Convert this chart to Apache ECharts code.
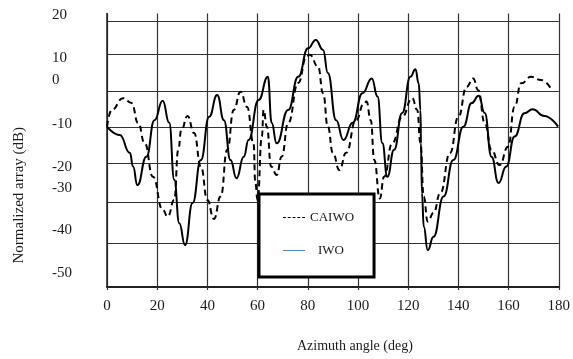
<!DOCTYPE html>
<html>
<head>
<meta charset="utf-8">
<script src="https://cdn.jsdelivr.net/npm/echarts@6/dist/echarts.min.js"></script>
<style>html,body{margin:0;padding:0;background:#fff}#c{width:573px;height:359px}</style>
</head>
<body>
<div id="c"></div>
<script>
// ---- data ----
const seriesNames = ['CAIWO', 'IWO'];
const xTickLabels = ['0','20','40','60','80','100','120','140','160','180'];
const yTickLabels = ['20','10','0','-10','-20','-30','-40','-50'];

const iwoAngle = [0,5.1,9.1,10.4,12.1,15.7,18.9,22.2,24.8,26.8,28.8,31.1,34.1,37.4,40.7,43.9,46.6,49.2,51.6,54.5,56.4,60.4,64.1,65.6,67.6,72.2,76.2,80.1,83.2,86.1,88.0,91.3,94.2,97.9,101.8,105.5,107.8,109.7,111.7,114.4,117.6,120.9,122.9,124.2,124.9,125.1,125.5,126.2,127.8,130.1,134.1,138.0,142.0,145.3,148.1,150.5,153.2,156.0,159.1,162.4,166.3,169.6,174.2,179.7];
const iwoDb    = [-7.8,-10.0,-14.7,-18.3,-23.2,-15.7,-6.1,-1.0,-6.8,-21.8,-33.2,-39.0,-27.9,-16.6,-5.2,0.5,-6.1,-16.6,-21.4,-15.7,-11.3,-0.8,5.3,-6.8,-12.2,-3.4,5.3,12.8,15.0,12.4,6.3,-6.1,-11.3,-6.8,1.0,4.9,0.1,-12.1,-21.0,-13.9,-4.2,5.3,7.3,3.6,-3.4,-12.2,-25.3,-34.1,-40.3,-36.8,-26.2,-16.6,-7.8,-1.6,0.3,-4.2,-15.7,-22.6,-18.3,-10.4,-4.3,-3.2,-5.0,-7.8];

const caiwoAngle = [0,1.9,6.4,9.8,12.4,15.0,18.3,22.2,24.2,26.8,28.4,29.6,32.1,34.7,37.4,40.0,42.6,45.3,47.9,50.5,53.2,55.8,58.4,59.1,60.0,61.7,62.4,63.7,65.4,67.6,69.6,72.2,76.2,79.5,80.8,84.1,86.1,88.0,90.0,92.6,95.3,99.2,102.5,103.4,105.1,106.5,108.7,110.4,113.7,117.6,121.6,123.6,124.9,126.2,127.8,130.1,132.8,136.7,140.0,143.3,145.9,147.9,150.5,153.2,156.4,159.8,162.4,165.0,169.0,172.9,176.8];
const caiwoDb    = [-7.8,-3.4,-0.3,-1.6,-6.8,-12.1,-21.0,-29.7,-31.5,-27.1,-13.9,-8.7,-5.0,-9.5,-18.3,-27.1,-32.1,-26.2,-13.9,-3.4,1.4,-2.6,-12.1,-22.6,-27.1,-10.4,-3.4,-7.8,-18.3,-20.5,-15.7,-6.8,3.7,10.6,11.1,8.0,1.0,-7.8,-14.7,-19.2,-14.7,-6.1,-1.6,-1.2,-6.1,-16.6,-26.7,-21.0,-12.1,-5.2,-0.3,-3.4,-12.1,-26.2,-32.8,-30.5,-25.3,-14.7,-5.2,2.7,4.9,1.8,-6.8,-13.9,-17.9,-13.1,-2.6,3.6,5.3,4.5,2.3];

// ---- layout (where the scanned figure put its y labels / grid rules) ----
const yLabelAt = [21.6, 10.3, 4.5, -7.1, -18.4, -24.0, -35.0, -46.3];
const yRuleAt  = [20, 11.3, 1.6, -7.9, -17.4, -27.6, -38.4];

const pairs = (xs, ys) => xs.map((x, i) => [x, ys[i]]);
const font = 'Liberation Serif, Times New Roman, serif';
const ink = '#1a1a1a';
const dashIcon = 'path://M0,0h3v1h-3z M5,0h3v1h-3z M10,0h3v1h-3z M15,0h3v1h-3z M20,0h3v1h-3z';
const solidIcon = 'path://M0,0h23v1h-23z';

const chart = echarts.init(document.getElementById('c'), null, {renderer: 'canvas'});
chart.setOption({
  animation: false,
  backgroundColor: '#fff',
  grid: {left: 107, right: 10, top: 13.4, bottom: 72},
  xAxis: {
    type: 'value', min: 0, max: 180, interval: 20,
    axisLine: {show: true, onZero: false, lineStyle: {color: '#222', width: 2}},
    axisTick: {show: true, length: 3, lineStyle: {color: '#333', width: 1.2}},
    axisLabel: {color: ink, fontFamily: font, fontSize: 15, margin: 12,
      formatter: (v) => xTickLabels[Math.round(v / 20)]},
    splitLine: {show: true, lineStyle: {color: '#333', width: 1.2}},
    name: 'Azimuth angle (deg)', nameLocation: 'middle', nameGap: 52,
    nameTextStyle: {color: ink, fontFamily: font, fontSize: 14, padding: [0, 0, 0, 44]}
  },
  yAxis: {
    type: 'value', min: -50, max: 22,
    axisLine: {show: true, onZero: false, lineStyle: {color: '#222', width: 1.5}},
    axisTick: {show: false, customValues: yRuleAt},
    axisLabel: {color: ink, fontFamily: font, fontSize: 15, align: 'left', margin: 55,
      customValues: yLabelAt,
      formatter: (v) => { const i = yLabelAt.findIndex(a => Math.abs(a - v) < 1e-6); return i >= 0 ? yTickLabels[i] : ''; }},
    splitLine: {show: true, lineStyle: {color: '#333', width: 1.2}},
    name: 'Normalized array (dB)', nameLocation: 'middle', nameGap: 80, nameRotate: 90,
    nameTextStyle: {color: ink, fontFamily: font, fontSize: 15, padding: [0, 90, 0, 0]}
  },
  legend: {
    orient: 'vertical', left: 259, top: 194,
    backgroundColor: '#fff', borderColor: '#000', borderWidth: 3, borderRadius: 0,
    padding: [17, 20, 20, 24], itemGap: 20, itemWidth: 22, itemHeight: 1.5,
    textStyle: {color: ink, fontFamily: font, fontSize: 13},
    data: [
      {name: seriesNames[0], icon: dashIcon, itemStyle: {color: '#000'}},
      {name: seriesNames[1], icon: solidIcon, itemStyle: {color: '#4a7fd0'}, textStyle: {padding: [0, 0, 0, 8]}}
    ]
  },
  series: [
    {name: seriesNames[0], type: 'line', data: pairs(caiwoAngle, caiwoDb), symbol: 'none',
     smooth: 0.5, smoothMonotone: 'x', color: '#000',
     lineStyle: {color: '#000', width: 2, type: [6, 4]}},
    {name: seriesNames[1], type: 'line', data: pairs(iwoAngle, iwoDb), symbol: 'none',
     smooth: 0.5, smoothMonotone: 'x', color: '#000',
     lineStyle: {color: '#000', width: 2}}
  ]
});
</script>
</body>
</html>
